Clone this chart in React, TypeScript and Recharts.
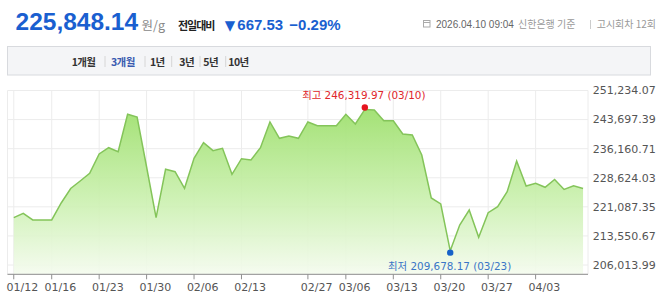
import React from 'react';
import { AreaChart, Area, XAxis, YAxis, CartesianGrid } from 'recharts';

const dates = [
  '01/12', '01/13', '01/14', '01/15', '01/16', '01/19', '01/20', '01/21', '01/22', '01/23',
  '01/26', '01/27', '01/28', '01/29', '01/30', '02/02', '02/03', '02/04', '02/05', '02/06',
  '02/09', '02/10', '02/11', '02/12', '02/13', '02/19', '02/20', '02/23', '02/24', '02/25',
  '02/26', '02/27', '03/03', '03/04', '03/05', '03/06', '03/09', '03/10', '03/11', '03/12',
  '03/13', '03/16', '03/17', '03/18', '03/19', '03/20', '03/23', '03/24', '03/25', '03/26',
  '03/27', '03/30', '03/31', '04/01', '04/02', '04/03', '04/06', '04/07', '04/08', '04/09',
  '04/10',
];

const prices = [
  218276, 219417, 217681, 217681, 217681, 222085, 225842, 227785, 229781, 234781,
  236413, 235377, 245067, 244368, 231413, 218276, 230817, 230195, 225894, 233667,
  237709, 235636, 236258, 229521, 233563, 233227, 236413, 243072, 238849, 239445,
  238849, 243072, 242114, 242114, 242114, 245067, 242554, 246319.97, 246182, 243409,
  243409, 239963, 239704, 234522, 223381, 221826, 209678.17, 216385, 220272, 213198,
  219572, 221126, 225013, 232967, 226490, 227189, 226153, 228174, 225583, 226515.67,
  225848.14,
];

const xTickIdx = [0, 4, 9, 14, 19, 24, 31, 35, 40, 45, 50, 55];
const yTicks = [206013.99, 213550.67, 221087.35, 228624.03, 236160.71, 243697.39, 251234.07];
const yDomain = [203604, 251234.07];
const maxIdx = 37;
const minIdx = 46;

const tabs = ['1개월', '3개월', '1년', '3년', '5년', '10년'];
const tabX = [71.7, 111, 150, 179.3, 203.3, 228.3];
const sepX = [105, 145, 171.7, 200, 225.7];

const data = prices.map((v, i) => ({ i, date: dates[i], v }));

const fmt = (v: number) =>
  v.toLocaleString('en-US', { minimumFractionDigits: 2, maximumFractionDigits: 2 });

const KR = '"Noto Sans CJK KR", "Liberation Sans", sans-serif';
const LAT = '"Liberation Sans", Arial, sans-serif';
const DJ = '"DejaVu Sans", "Noto Sans CJK KR", sans-serif';

const XTick = (props: any) => {
  const { x, y, payload } = props;
  return (
    <text x={x + 8.7} y={y + 9.5} textAnchor="middle" fontSize={11} fill="#555" fontFamily={DJ}>
      {dates[payload.value]}
    </text>
  );
};

const renderDot = (props: any) => {
  const { cx, cy, index } = props;
  if (index === maxIdx) {
    return (
      <g key="dmax">
        <circle cx={cx} cy={cy - 2} r={3.2} fill="#e5141e" />
        <text x={cx - 1} y={cy - 14.5} dy="0.35em" textAnchor="middle" fontSize={10.4} fill="#e0262c" fontFamily={DJ}>
          {`최고 ${fmt(prices[maxIdx])} (${dates[maxIdx]})`}
        </text>
      </g>
    );
  }
  if (index === minIdx) {
    return (
      <g key="dmin">
        <circle cx={cx} cy={cy + 1.8} r={3.2} fill="#1662c8" />
        <text x={cx - 0.6} y={cy + 15.1} dy="0.35em" textAnchor="middle" fontSize={10.4} fill="#3a76c6" fontFamily={DJ}>
          {`최저 ${fmt(prices[minIdx])} (${dates[minIdx]})`}
        </text>
      </g>
    );
  }
  return <g key={`d${index}`} />;
};

export default function App() {
  return (
    <div style={{ position: 'absolute', left: 0, top: 0, width: 658, height: 298, background: '#fff', overflow: 'hidden' }}>
      <div style={{ position: 'absolute', left: 0, top: 0 }}>
        <AreaChart
          width={658}
          height={298}
          data={data}
          margin={{ top: 90.5, right: 0, bottom: 3.7, left: 7.5 }}
        >
          <defs>
            <linearGradient id="goldFill" x1="0" y1="0" x2="0" y2="1">
              <stop offset="0%" stopColor="#9fe06f" stopOpacity={0.95} />
              <stop offset="55%" stopColor="#caf0ae" stopOpacity={0.9} />
              <stop offset="100%" stopColor="#f4fbee" stopOpacity={0.9} />
            </linearGradient>
          </defs>
          <CartesianGrid stroke="#ececec" strokeWidth={1} />
          <XAxis
            dataKey="i"
            type="number"
            domain={[-0.66, 60.52]}
            allowDataOverflow
            ticks={xTickIdx}
            interval={0}
            height={20}
            axisLine={{ stroke: '#8f8f8f' }}
            tickLine={{ stroke: '#8f8f8f' }}
            tickSize={5}
            tick={<XTick />}
          />
          <YAxis
            orientation="right"
            type="number"
            domain={yDomain}
            allowDataOverflow
            ticks={yTicks}
            interval={0}
            width={70}
            axisLine={false}
            tickLine={false}
            tickSize={0}
            tickMargin={4.7}
            tickFormatter={fmt}
            tick={{ fontSize: 11, fill: '#555', fontFamily: DJ }}
          />
          <Area
            type="linear"
            dataKey="v"
            stroke="#84c45a"
            strokeWidth={1.5}
            fill="url(#goldFill)"
            fillOpacity={1}
            dot={renderDot}
            activeDot={false}
            isAnimationActive={false}
          />
        </AreaChart>
      </div>
      <svg width={658} height={80} style={{ position: 'absolute', left: 0, top: 0 }}>
        <text x={15.5} y={30} fontSize={24.5} fontWeight="bold" fill="#1a5fd0" fontFamily={LAT}>225,848.14</text>
        <text x={141.5} y={30} fontSize={12.5} fill="#888" fontFamily={KR}>원/g</text>
        <text x={178} y={29.5} fontSize={11} fontWeight="bold" fill="#222" fontFamily={KR} letterSpacing={-1}>전일대비</text>
        <text x={224.8} y={29.8} fontSize={13.5} fill="#1a5fd0" fontFamily={DJ}>▼</text>
        <text x={237.3} y={30} fontSize={15} fontWeight="bold" fill="#1a5fd0" fontFamily={LAT}>667.53</text>
        <text x={289.3} y={30} fontSize={15} fontWeight="bold" fill="#1a5fd0" fontFamily={LAT}>−0.29%</text>

        <rect x={423.5} y={20.5} width={6.5} height={6.5} fill="none" stroke="#aaa" strokeWidth={1} />
        <line x1={423.5} y1={22.5} x2={430} y2={22.5} stroke="#aaa" strokeWidth={1} />
        <text x={436} y={28} fontSize={10} fill="#666" fontFamily={LAT}>2026.04.10 09:04</text>
        <text x={518} y={28} fontSize={10} fill="#999" fontFamily={KR}>신한은행 기준</text>
        <line x1={590.5} y1={20} x2={590.5} y2={29} stroke="#ccc" strokeWidth={1} />
        <text x={596.7} y={28} fontSize={10} fill="#999" fontFamily={KR}>고시회차 12회</text>

        <rect x={7.5} y={46.5} width={643} height={28.5} fill="#f4f5f7" stroke="#d8dade" strokeWidth={1} />
        {sepX.map((x, k) => (
          <line key={`s${k}`} x1={x} y1={56} x2={x} y2={67} stroke="#d6d6d6" strokeWidth={1} />
        ))}
        {tabs.map((t, k) => (
          <text
            key={`t${k}`}
            x={tabX[k]}
            y={65.5}
            fontSize={10.5}
            fontWeight="bold"
            letterSpacing={-0.6}
            fill={k === 1 ? '#3a5bb0' : '#333'}
            fontFamily={KR}
          >
            {t}
          </text>
        ))}
      </svg>
    </div>
  );
}
